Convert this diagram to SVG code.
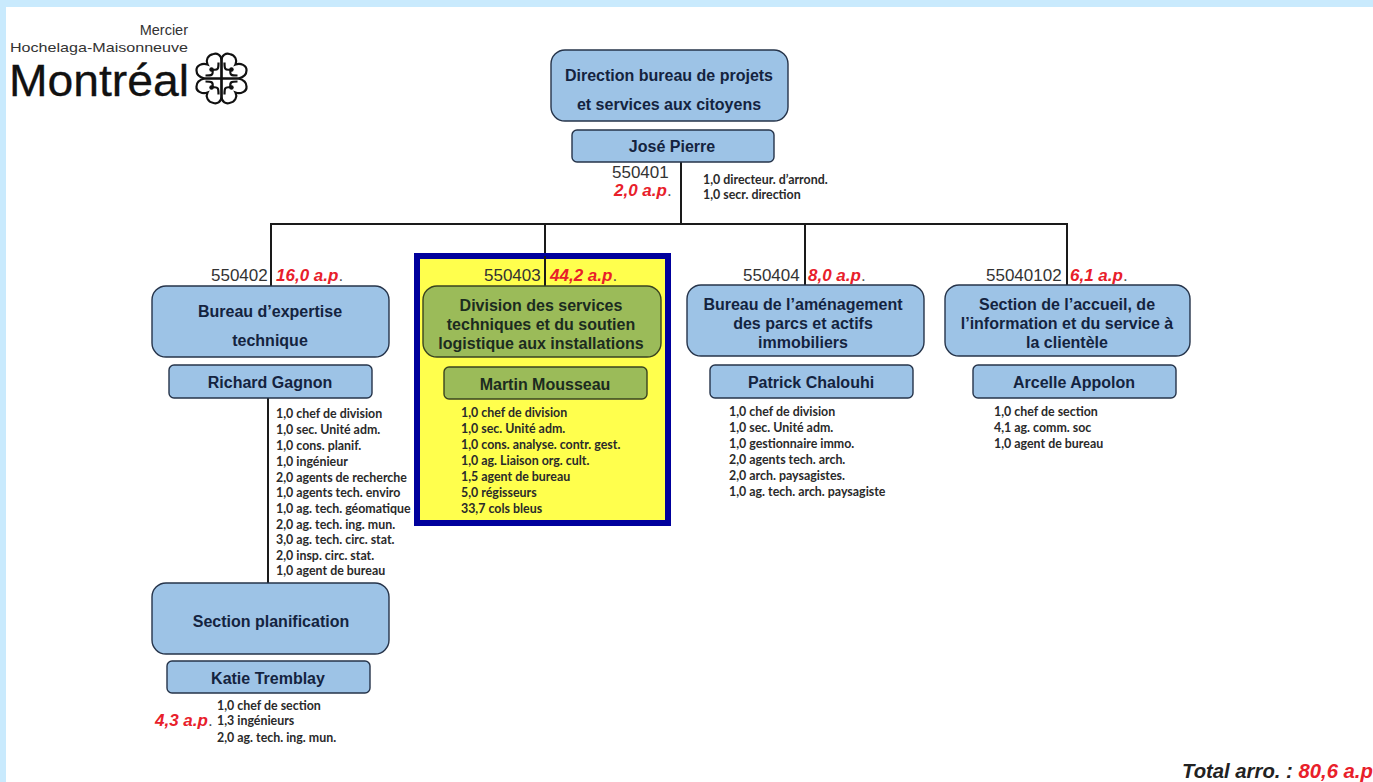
<svg xmlns="http://www.w3.org/2000/svg" width="1373" height="782" viewBox="0 0 1373 782">
<style>
.box{fill:#9dc3e6;stroke:#26344a;stroke-width:1.4}
.grn{fill:#9bbb59;stroke:#3a4420;stroke-width:1.4}
.t{font-family:"Liberation Sans",Arial,sans-serif;font-weight:700;font-size:16px;fill:#14233f;text-anchor:middle;transform:translateY(1px)}
.g{fill:#1c2b20}
.n{font-family:"Liberation Sans",Arial,sans-serif;font-size:17px;fill:#333}
.r{font-family:"Liberation Sans",Arial,sans-serif;font-weight:700;font-style:italic;font-size:17px;fill:#e8202a}
.d{fill:#555;font-weight:400;font-style:normal}
.s{font-family:Lato,"Open Sans",sans-serif;font-weight:700;font-size:12.4px;fill:#2a2a2a;transform:translateY(1px)}
.c{stroke:#1a1a1a;stroke-width:2;fill:none}
.l{font-family:"Liberation Sans",Arial,sans-serif;fill:#333}
.p{fill:none;stroke:#111;stroke-width:2.2}
</style>
<defs>
<g id="q">
<path class="p" d="M0,0V-18C0,-24 5,-25.5 8,-24.5C14,-23.5 16,-18 14,-14C19,-16 25.5,-13 25,-8C25,-3 21,-1 17,0H0"/>
<path class="p" d="M3,-16C3,-10 3,-8 9,-9M16,-3C10,-3 8,-3 9,-9"/>
<circle cx="10" cy="-9" r="2.2" fill="#111"/>
</g>
</defs>
<rect width="1373" height="782" fill="#fff"/>
<rect width="1373" height="7" fill="#c9eafd"/>
<rect width="6" height="782" fill="#c9eafd"/>
<g id="logo">
<text class="l" x="188" y="35" font-size="14.5" text-anchor="end">Mercier</text>
<text class="l" x="188" y="52" font-size="13" text-anchor="end" textLength="178" lengthAdjust="spacingAndGlyphs">Hochelaga-Maisonneuve</text>
<text x="9" y="96" font-family="'Liberation Sans',Arial,sans-serif" font-size="44" fill="#111" stroke="#111" stroke-width="0.3" textLength="180" lengthAdjust="spacingAndGlyphs">Montréal</text>
<use href="#q" transform="translate(221.5,78.5)"/>
<use href="#q" transform="translate(221.5,78.5) scale(-1,1)"/>
<use href="#q" transform="translate(221.5,78.5) scale(1,-1)"/>
<use href="#q" transform="translate(221.5,78.5) scale(-1,-1)"/>
</g>
<g id="connectors">
<path class="c" d="M681 162V224M271 286V224H1067V286M545 224V256M805 224V285M268 398V583"/>
</g>
<g id="n-direction">
<rect class="box" x="551" y="50" width="237" height="71" rx="14"/>
<text class="t" x="669" y="80">Direction bureau de projets</text>
<text class="t" x="669" y="109">et services aux citoyens</text>
</g>
<g id="n-pierre">
<rect class="box" x="572" y="130" width="202" height="32" rx="5"/>
<text class="t" x="672" y="151">José Pierre</text>
<text class="n" x="612" y="178">550401</text>
<text class="r" x="614" y="196">2,0 a.p<tspan class="d">.</tspan></text>
<text class="s" x="703" y="183">1,0 directeur. d’arrond.</text>
<text class="s" x="703" y="198">1,0 secr. direction</text>
</g>
<g id="n-550402">
<text class="n" x="211" y="281">550402</text>
<text class="r" x="276" y="281">16,0 a.p<tspan class="d">.</tspan></text>
<rect class="box" x="152" y="286" width="237" height="71" rx="14"/>
<text class="t" x="270" y="316">Bureau d’expertise</text>
<text class="t" x="270" y="345">technique</text>
</g>
<g id="n-gagnon">
<rect class="box" x="169" y="365" width="203" height="33" rx="5"/>
<text class="t" x="270" y="387">Richard Gagnon</text>
<text class="s" x="276" y="417">1,0 chef de division</text>
<text class="s" x="276" y="433">1,0 sec. Unité adm.</text>
<text class="s" x="276" y="449">1,0 cons. planif.</text>
<text class="s" x="276" y="465">1,0 ingénieur</text>
<text class="s" x="276" y="481">2,0 agents de recherche</text>
<text class="s" x="276" y="496">1,0 agents tech. enviro</text>
<text class="s" x="276" y="512">1,0 ag. tech. géomatique</text>
<text class="s" x="276" y="528">2,0 ag. tech. ing. mun.</text>
<text class="s" x="276" y="543">3,0 ag. tech. circ. stat.</text>
<text class="s" x="276" y="559">2,0 insp. circ. stat.</text>
<text class="s" x="276" y="574">1,0 agent de bureau</text>
</g>
<g id="n-550403">
<rect x="417" y="256" width="251" height="267" fill="#ffff4d" stroke="#00009c" stroke-width="6"/>
<path class="c" d="M545 256V286"/>
<text class="n" x="484" y="281">550403</text>
<text class="r" x="550" y="281">44,2 a.p<tspan class="d">.</tspan></text>
<rect class="grn" x="423" y="286" width="238" height="71" rx="14"/>
<text class="t g" x="541" y="310">Division des services</text>
<text class="t g" x="541" y="329">techniques et du soutien</text>
<text class="t g" x="541" y="348">logistique aux installations</text>
</g>
<g id="n-mousseau">
<rect class="grn" x="444" y="367" width="203" height="32" rx="5"/>
<text class="t g" x="545" y="389">Martin Mousseau</text>
<text class="s" x="461" y="416">1,0 chef de division</text>
<text class="s" x="461" y="432">1,0 sec. Unité adm.</text>
<text class="s" x="461" y="448">1,0 cons. analyse. contr. gest.</text>
<text class="s" x="461" y="464">1,0 ag. Liaison org. cult.</text>
<text class="s" x="461" y="480">1,5 agent de bureau</text>
<text class="s" x="461" y="496">5,0 régisseurs</text>
<text class="s" x="461" y="512">33,7 cols bleus</text>
</g>
<g id="n-550404">
<text class="n" x="743" y="281">550404</text>
<text class="r" x="808" y="281">8,0 a.p<tspan class="d">.</tspan></text>
<rect class="box" x="687" y="285" width="237" height="71" rx="14"/>
<text class="t" x="803" y="309">Bureau de l’aménagement</text>
<text class="t" x="803" y="328">des parcs et actifs</text>
<text class="t" x="803" y="347">immobiliers</text>
</g>
<g id="n-chalouhi">
<rect class="box" x="710" y="365" width="203" height="33" rx="5"/>
<text class="t" x="811" y="387">Patrick Chalouhi</text>
<text class="s" x="729" y="415">1,0 chef de division</text>
<text class="s" x="729" y="431">1,0 sec. Unité adm.</text>
<text class="s" x="729" y="447">1,0 gestionnaire immo.</text>
<text class="s" x="729" y="463">2,0 agents tech. arch.</text>
<text class="s" x="729" y="479">2,0 arch. paysagistes.</text>
<text class="s" x="729" y="495">1,0 ag. tech. arch. paysagiste</text>
</g>
<g id="n-550405">
<text class="n" x="986" y="281">55040102</text>
<text class="r" x="1070" y="281">6,1 a.p<tspan class="d">.</tspan></text>
<rect class="box" x="945" y="285" width="245" height="71" rx="14"/>
<text class="t" x="1067" y="309">Section de l’accueil, de</text>
<text class="t" x="1067" y="328">l’information et du service à</text>
<text class="t" x="1067" y="347">la clientèle</text>
</g>
<g id="n-appolon">
<rect class="box" x="973" y="365" width="203" height="33" rx="5"/>
<text class="t" x="1074" y="387">Arcelle Appolon</text>
<text class="s" x="994" y="415">1,0 chef de section</text>
<text class="s" x="994" y="431">4,1 ag. comm. soc</text>
<text class="s" x="994" y="447">1,0 agent de bureau</text>
</g>
<g id="n-planif">
<rect class="box" x="152" y="583" width="237" height="71" rx="14"/>
<text class="t" x="271" y="626">Section planification</text>
</g>
<g id="n-tremblay">
<rect class="box" x="167" y="661" width="203" height="32" rx="5"/>
<text class="t" x="268" y="683">Katie Tremblay</text>
<text class="r" x="155" y="726">4,3 a.p<tspan class="d">.</tspan></text>
<text class="s" x="217" y="709">1,0 chef de section</text>
<text class="s" x="217" y="724">1,3 ingénieurs</text>
<text class="s" x="217" y="741">2,0 ag. tech. ing. mun.</text>
</g>
<g id="total">
<text x="1182" y="778" font-family="'Liberation Sans',Arial,sans-serif" font-weight="700" font-style="italic" font-size="20.3" fill="#222">Total arro. : <tspan fill="#e8202a">80,6 a.p</tspan></text>
</g>
</svg>
